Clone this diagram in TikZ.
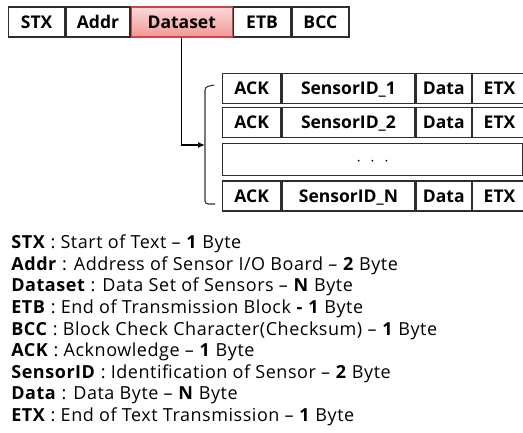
\documentclass[tikz,border=0pt]{standalone}
\usepackage{fontspec}
\setmainfont{Open Sans}
\usetikzlibrary{positioning,arrows.meta}

\tikzset{every picture/.style={line width=0.75pt}}
\tikzset{
	field/.style={draw={rgb, 255:red, 45; green, 45; blue, 45}, line width=1.3pt, minimum height=30, inner sep=0pt, text height=12.5pt, text depth=0pt, font=\bfseries\fontsize{17.5}{20}\selectfont},
	hot field/.style={field, draw={rgb, 255:red, 205; green, 70; blue, 70}, top color={rgb, 255:red, 252; green, 218; blue, 218}, bottom color={rgb, 255:red, 242; green, 150; blue, 150}},
	legend/.style={anchor=west, inner sep=0pt, font=\fontsize{18}{20}\selectfont\addfontfeature{LetterSpace=3}}}

\begin{document}
\begin{tikzpicture}[x=1pt,y=1pt,yscale=-1,xscale=1]
	\useasboundingbox (0,0) rectangle (523,432);

	% Frame fields
	\node [field, minimum width=56, anchor=west] (stx) at (8,22) {STX};
	\node [field, minimum width=64, right=0pt of stx] (addr) {Addr};
	\node [hot field, minimum width=101, right=0pt of addr] (dataset) {Dataset};
	\node [field, minimum width=57, right=0pt of dataset] (etb) {ETB};
	\node [field, minimum width=57, right=0pt of etb] (bcc) {BCC};

	% Dataset rows
	\node [field, minimum width=58, anchor=west] (ack1) at (222,88.5) {ACK};
	\node [field, minimum width=133, right=0pt of ack1] (sid1) {SensorID\_1};
	\node [field, minimum width=55, right=0pt of sid1] (data1) {Data};
	\node [field, minimum width=54, right=0pt of data1] (etx1) {ETX};

	\node [field, minimum width=58, anchor=west] (ack2) at (222,122.5) {ACK};
	\node [field, minimum width=133, right=0pt of ack2] (sid2) {SensorID\_2};
	\node [field, minimum width=55, right=0pt of sid2] (data2) {Data};
	\node [field, minimum width=54, right=0pt of data2] (etx2) {ETX};

	\node [field, minimum width=300, minimum height=32, anchor=west] (dots) at (222,159.5) {$\cdot$\ \ $\cdot$\ \ $\cdot$};

	\node [field, minimum width=58, anchor=west] (ackn) at (222,196) {ACK};
	\node [field, minimum width=133, right=0pt of ackn] (sidn) {SensorID\_N};
	\node [field, minimum width=55, right=0pt of sidn] (datan) {Data};
	\node [field, minimum width=54, right=0pt of datan] (etxn) {ETX};

	% Bracket and arrow
	\coordinate (brk) at (205,145);
	\draw [rounded corners=3, line width=1.1pt, color={rgb, 255:red, 50; green, 50; blue, 50}] (214,85) -- (205,87) -- (205,204) -- (215,204);
	\draw [-{Latex[length=7pt,width=6pt]}, line width=1.1pt] (dataset.south) |- (brk);

	% Text Node
	\node [legend] (lstx) at (11,244) {\textbf{STX} : Start of Text – \textbf{1} Byte};
	% Text Node
	\node [legend] (laddr) at (11,265.6) {\textbf{Addr} : Address of Sensor I/O Board – \textbf{2} Byte};
	% Text Node
	\node [legend] (lset) at (11,287.2) {\textbf{Dataset} : Data Set of Sensors – \textbf{N} Byte};
	% Text Node
	\node [legend] (letb) at (11,308.8) {\textbf{ETB} : End of Transmission Block \textbf{-} \textbf{1} Byte};
	% Text Node
	\node [legend] (lbcc) at (11,330.4) {\textbf{BCC} : Block Check Character(Checksum) – \textbf{1} Byte};
	% Text Node
	\node [legend] (lack) at (11,352) {\textbf{ACK} : Acknowledge – \textbf{1} Byte};
	% Text Node
	\node [legend] (lsid) at (11,373.6) {\textbf{SensorID} : Identification of Sensor – \textbf{2} Byte};
	% Text Node
	\node [legend] (ldata) at (11,395.2) {\textbf{Data} : Data Byte – \textbf{N} Byte};
	% Text Node
	\node [legend] (letx) at (11,416.8) {\textbf{ETX} : End of Text Transmission – \textbf{1} Byte};

\end{tikzpicture}
\end{document}
